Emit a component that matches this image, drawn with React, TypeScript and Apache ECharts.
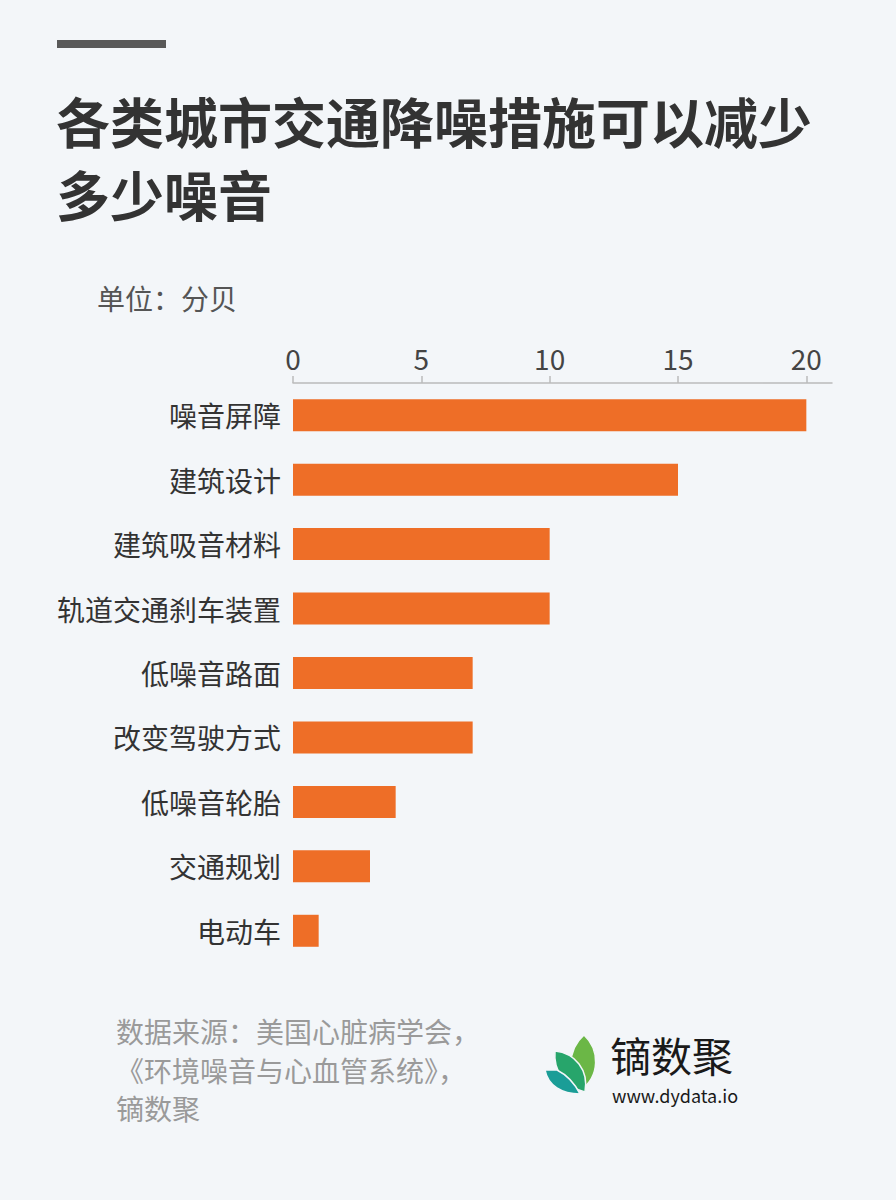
import React, { useEffect, useRef } from "react";
import * as echarts from "echarts";

const categories = ["噪音屏障", "建筑设计", "建筑吸音材料", "轨道交通刹车装置", "低噪音路面", "改变驾驶方式", "低噪音轮胎", "交通规划", "电动车"];
const values = [20, 15, 10, 10, 7, 7, 4, 3, 1];
const tickValues = [0, 5, 10, 15, 20];
const titleLines = ["各类城市交通降噪措施可以减少", "多少噪音"];
const unitText = "单位：分贝";
const sourceLines = ["数据来源：美国心脏病学会，", "《环境噪音与心血管系统》，", "镝数聚"];

const FONT = '"Noto Sans CJK SC", "Noto Sans", sans-serif';

echarts.graphic.registerShape("leafA", echarts.graphic.extendPath("M 44 5 C 60 20 60 46 41 60 C 28 48 26 21 44 5 Z", {}));
echarts.graphic.registerShape("leafB", echarts.graphic.extendPath("M 15 21 C 35 23 49 40 45 62 C 26 57 13 42 15 21 Z", {}));
echarts.graphic.registerShape("leafC", echarts.graphic.extendPath("M 5 40 L 17 40 C 27 45 35 54 40 64 C 22 64 8 56 5 40 Z", {}));

export default function App() {
  const ref = useRef<HTMLDivElement>(null);
  useEffect(() => {
    if (!ref.current) return;
    const chart = echarts.init(ref.current, null, { renderer: "svg" });
    const graphics: any[] = [
      { type: "rect", left: 57, top: 40, shape: { width: 109, height: 8 }, style: { fill: "#595959" } },
      ...titleLines.map((t, i) => ({
        type: "text", x: 56, y: 120 + i * 73,
        style: { text: t, font: `bold 54px ${FONT}`, fill: "#333333", verticalAlign: "middle" },
      })),
      { type: "text", x: 97, y: 298, style: { text: unitText, font: `28px ${FONT}`, fill: "#555555", verticalAlign: "middle" } },
      ...sourceLines.map((t, i) => ({
        type: "text", x: 116, y: 1031 + i * 38.5,
        style: { text: t, font: `28px ${FONT}`, fill: "#9A9A9A", verticalAlign: "middle" },
      })),
      { type: "leafA", x: 540, y: 1030, style: { fill: "#6BB746", stroke: "#F3F6F9", lineWidth: 1.5 } },
      { type: "leafB", x: 540, y: 1030, style: { fill: "#27A56B", stroke: "#F3F6F9", lineWidth: 1.5 } },
      { type: "leafC", x: 540, y: 1030, style: { fill: "#1A9D97", stroke: "#F3F6F9", lineWidth: 1.5 } },
      { type: "text", x: 610, y: 1054, style: { text: "镝数聚", fontSize: 41, fontFamily: FONT, lineHeight: 41, fill: "#1a1a1a", verticalAlign: "middle" } },
      { type: "text", x: 612, y: 1095, style: { text: "www.dydata.io", fontSize: 18, fontFamily: FONT, lineHeight: 18, fill: "#1a1a1a", verticalAlign: "middle" } },
    ];
    chart.setOption({
      animation: false,
      backgroundColor: "#F3F6F9",
      grid: { left: 293, right: 64, top: 383, height: 580, containLabel: false },
      xAxis: {
        type: "value", position: "top", min: 0, max: 21,
        axisLine: { show: true, lineStyle: { color: "#BBBBBB", width: 1.5 } },
        axisTick: { show: true, length: 7, customValues: tickValues, lineStyle: { color: "#BBBBBB", width: 1.5 } },
        axisLabel: { customValues: tickValues, color: "#444444", fontSize: 28, fontFamily: FONT, margin: 11 },
        splitLine: { show: false },
      },
      yAxis: {
        type: "category", inverse: true, data: categories,
        axisLine: { show: false }, axisTick: { show: false },
        axisLabel: { color: "#333333", fontSize: 28, fontFamily: FONT, margin: 12 },
      },
      series: [{
        type: "bar", data: values, barWidth: 32,
        itemStyle: { color: "#EE6E27" },
      }],
      graphic: graphics,
    });
    return () => chart.dispose();
  }, []);
  return <div ref={ref} style={{ position: "fixed", left: 0, top: 0, width: 896, height: 1200 }} />;
}
